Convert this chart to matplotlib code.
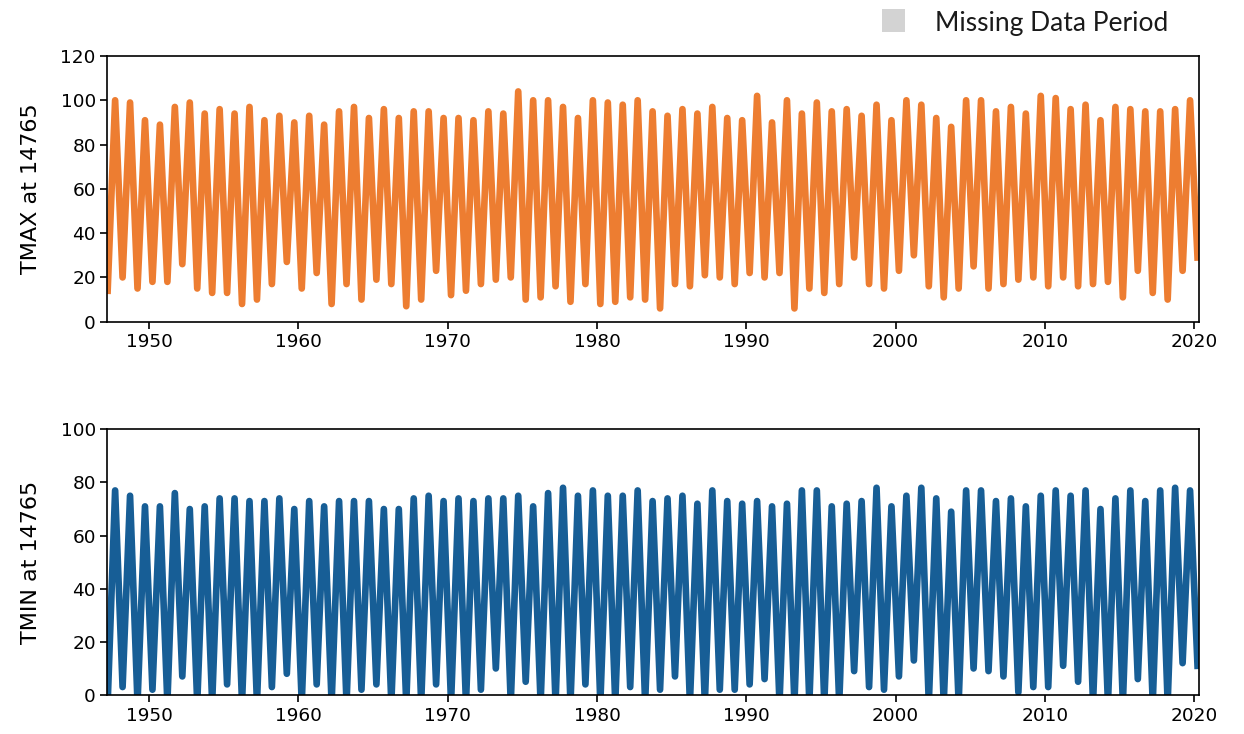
import numpy as np
import matplotlib
matplotlib.use('Agg')
import matplotlib.pyplot as plt
from matplotlib.patches import Rectangle

plt.rcParams['font.family'] = ['DejaVu Sans']

# yearly extremes (deg F), station 14765
years = np.arange(1947, 2020)          # summer peaks 1947..2019
trough_years = np.arange(1947, 2021)   # winter troughs 1947..2020

tmax_peaks = [100, 99, 91, 89, 97, 99, 94, 96, 94, 97, 91, 93, 90, 93, 89, 95, 97, 92, 96, 92,
              95, 95, 92, 92, 91, 95,
              94, 104, 100, 100, 97, 92, 100, 99, 98, 100, 95, 93, 96, 94, 97, 92, 91, 102, 90, 100,
              94, 99, 95, 96,
              93, 98, 91, 100, 98, 92, 88, 100, 100, 95, 97, 94, 102, 101, 96, 98, 91, 97, 96, 95,
              95, 96, 100]
tmax_troughs = [14,
                20, 15, 18, 18, 26, 15, 13, 13, 8, 10, 17, 27, 15, 22, 8, 17, 10, 19, 17, 7, 10, 23,
                12, 14, 17,
                19, 20, 10, 11, 16, 9, 17, 8, 9, 11, 10, 6, 17, 16, 21, 20, 17, 22, 20, 22, 6, 15,
                13, 17, 29,
                17, 15, 23, 30, 16, 11, 15, 25, 15, 17, 19, 20, 16, 20, 16, 17, 18, 11, 23, 13, 10,
                23, 29]

tmin_peaks = [77, 75, 71, 71, 76, 70, 71, 74, 74, 73, 73, 74, 70, 73, 71, 73, 73, 73, 70, 70,
              74, 75, 73, 74, 73, 74,
              74, 75, 71, 76, 78, 75, 77, 75, 75, 77, 73, 74, 75, 72, 77, 73, 72, 73, 71, 72,
              77, 77, 71, 72,
              73, 78, 71, 75, 78, 74, 69, 77, 77, 73, 74, 71, 75, 77, 75, 77, 70, 74, 77, 73,
              77, 78, 77]
tmin_troughs = [-3,
                3, -3, 2, -3, 7, -3, -3, 4, -3, -3, 3, 8, -3, 4, -3, -3, 2, 4, -3, -3, -3, 4,
                -3, -3, 2,
                10, -3, 5, -3, -3, -3, 4, -3, -3, 3, -3, 2, 7, -3, -3, 2, 2, 4, 6, -3, -3, -3,
                -3, -3, 9,
                3, 2, 7, 13, -3, -3, -3, 10, 9, 7, 1, 3, 3, 11, 5, -3, -3, -3, 6, -3, -3,
                12, 11]


def seasonal_path(peaks, troughs):
    # winter low early in the year, summer high later on
    x = []
    y = []
    for i, t in enumerate(troughs):
        x.append(trough_years[i] + 0.22)
        y.append(t)
        if i < len(peaks):
            x.append(years[i] + 0.72)
            y.append(peaks[i])
    return np.array(x), np.array(y)


fig = plt.figure(figsize=(12.44, 7.34), dpi=100)
ax1 = fig.add_axes([0.0863, 0.5617, 0.8773, 0.362])
ax2 = fig.add_axes([0.0863, 0.0531, 0.8773, 0.362])

panels = [
    (ax1, tmax_peaks, tmax_troughs, '#ED7D31', 'TMAX at 14765', 120),
    (ax2, tmin_peaks, tmin_troughs, '#175E96', 'TMIN at 14765', 100),
]

for ax, peaks, troughs, color, label, top in panels:
    x, y = seasonal_path(peaks, troughs)
    ax.plot(x, y, color=color, linewidth=4.8, solid_joinstyle='round')
    ax.set_xlim(1947.2, 2020.3)
    ax.set_ylim(0, top)
    ax.set_yticks(np.arange(0, top + 1, 20))
    ax.set_xticks(np.arange(1950, 2021, 10))
    ax.set_ylabel(label, fontsize=16, labelpad=14)
    ax.tick_params(labelsize=13.3, length=4.8, width=1.2)
    for s in ax.spines.values():
        s.set_linewidth(1.2)

# legend box for the (empty) missing-data shading
fig.add_artist(Rectangle((882 / 1244, 1 - 32 / 734), 23 / 1244, 23 / 734,
                         transform=fig.transFigure, color='#d3d3d3', lw=0))
fig.text(935 / 1244, 1 - 31 / 734, 'Missing Data Period', fontsize=19,
         family='Lato', va='baseline', ha='left', color='#1a1a1a')

fig.savefig('out.png', dpi=100)
